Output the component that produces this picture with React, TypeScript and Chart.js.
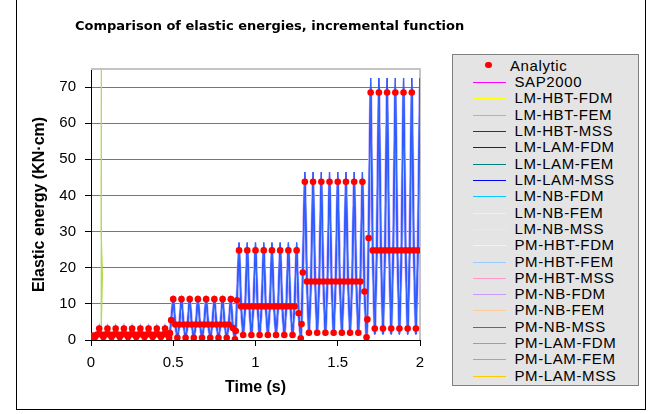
import React, { useEffect, useRef } from 'react';
import { Chart, registerables } from 'chart.js';

Chart.register(...registerables);

// ---------- DATA ----------
const timeSteps: number[] = [
  0, 0.0125, 0.025, 0.0375,
  0.05, 0.0625, 0.075, 0.0875,
  0.1, 0.1125, 0.125, 0.1375,
  0.15, 0.1625, 0.175, 0.1875,
  0.2, 0.2125, 0.225, 0.2375,
  0.25, 0.2625, 0.275, 0.2875,
  0.3, 0.3125, 0.325, 0.3375,
  0.35, 0.3625, 0.375, 0.3875,
  0.4, 0.4125, 0.425, 0.4375,
  0.45, 0.4625, 0.475, 0.48, 0.4875,
  0.5, 0.5125, 0.525, 0.5375,
  0.55, 0.5625, 0.575, 0.5875,
  0.6, 0.6125, 0.625, 0.6375,
  0.65, 0.6625, 0.675, 0.6875,
  0.7, 0.7125, 0.725, 0.7375,
  0.75, 0.7625, 0.775, 0.7875,
  0.8, 0.8125, 0.825, 0.8375,
  0.85, 0.8625, 0.875, 0.88, 0.8875,
  0.9, 0.9125, 0.925, 0.9375,
  0.95, 0.9625, 0.975, 0.9875,
  1, 1.0125, 1.025, 1.0375,
  1.05, 1.0625, 1.075, 1.0875,
  1.1, 1.1125, 1.125, 1.1375,
  1.15, 1.1625, 1.175, 1.1875,
  1.2, 1.2125, 1.225, 1.2375,
  1.25, 1.2625, 1.275, 1.28, 1.2875,
  1.3, 1.3125, 1.325, 1.3375,
  1.35, 1.3625, 1.375, 1.3875,
  1.4, 1.4125, 1.425, 1.4375,
  1.45, 1.4625, 1.475, 1.4875,
  1.5, 1.5125, 1.525, 1.5375,
  1.55, 1.5625, 1.575, 1.5875,
  1.6, 1.6125, 1.625, 1.6375,
  1.65, 1.6625, 1.675, 1.68, 1.6875,
  1.7, 1.7125, 1.725, 1.7375,
  1.75, 1.7625, 1.775, 1.7875,
  1.8, 1.8125, 1.825, 1.8375,
  1.85, 1.8625, 1.875, 1.8875,
  1.9, 1.9125, 1.925, 1.9375,
  1.95, 1.9625, 1.975, 1.9875,
  2,
];

const analyticEnergy: (number | null)[] = [
  0.5, 1.2, 0.8, 1.5,
  3.2, 1.5, 0.8, 1.5,
  3.2, 1.5, 0.8, 1.5,
  3.2, 1.5, 0.8, 1.5,
  3.2, 1.5, 0.8, 1.5,
  3.2, 1.5, 0.8, 1.5,
  3.2, 1.5, 0.8, 1.5,
  3.2, 1.5, 0.8, 1.5,
  3.2, 1.5, 0.8, 1.5,
  3.2, 1.5, 0.6, 1.9, 5.5,
  11.3, 4.3, 0.6, 4.3,
  11.3, 4.3, 0.6, 4.3,
  11.3, 4.3, 0.6, 4.3,
  11.3, 4.3, 0.6, 4.3,
  11.3, 4.3, 0.6, 4.3,
  11.3, 4.3, 0.6, 4.3,
  11.3, 4.3, 0.6, 4.3,
  11.3, 3.3, 0.2, 2.5, 11.0,
  24.8, 9.3, 1.4, 9.3,
  24.8, 9.3, 1.4, 9.3,
  24.8, 9.3, 1.4, 9.3,
  24.8, 9.3, 1.4, 9.3,
  24.8, 9.3, 1.4, 9.3,
  24.8, 9.3, 1.4, 9.3,
  24.8, 9.3, 1.4, 9.3,
  24.8, 7.4, 0.5, 4.4, 18.7,
  43.8, 16.2, 2.0, 16.2,
  43.8, 16.2, 2.0, 16.2,
  43.8, 16.2, 2.0, 16.2,
  43.8, 16.2, 2.0, 16.2,
  43.8, 16.2, 2.0, 16.2,
  43.8, 16.2, 2.0, 16.2,
  43.8, 16.2, 2.0, 16.2,
  43.8, 13.4, 0.75, 5.7, 28.2,
  68.5, 24.8, 3.2, 24.8,
  68.5, 24.8, 3.2, 24.8,
  68.5, 24.8, 3.2, 24.8,
  68.5, 24.8, 3.2, 24.8,
  68.5, 24.8, 3.2, 24.8,
  68.5, 24.8, 3.2, 24.8,
  null,
];

// numerical solution (fine-step methods, reaching the true peaks)
const numericEnergy: number[] = [
  0, 1.2, 0.3, 1.5,
  3.6, 1.5, 0.3, 1.5,
  3.6, 1.5, 0.3, 1.5,
  3.6, 1.5, 0.3, 1.5,
  3.6, 1.5, 0.3, 1.5,
  3.6, 1.5, 0.3, 1.5,
  3.6, 1.5, 0.3, 1.5,
  3.6, 1.5, 0.3, 1.5,
  3.6, 1.5, 0.3, 1.5,
  3.6, 1.5, 0.3, 1.9, 5.5,
  12.2, 4.3, 0.3, 4.3,
  12.2, 4.3, 0.3, 4.3,
  12.2, 4.3, 0.3, 4.3,
  12.2, 4.3, 0.3, 4.3,
  12.2, 4.3, 0.3, 4.3,
  12.2, 4.3, 0.3, 4.3,
  12.2, 4.3, 0.3, 4.3,
  12.2, 3.3, 0.2, 2.5, 11.0,
  27.0, 9.3, 0.9, 9.3,
  27.0, 9.3, 0.9, 9.3,
  27.0, 9.3, 0.9, 9.3,
  27.0, 9.3, 0.9, 9.3,
  27.0, 9.3, 0.9, 9.3,
  27.0, 9.3, 0.9, 9.3,
  27.0, 9.3, 0.9, 9.3,
  27.0, 7.4, 0.4, 4.4, 18.7,
  46.5, 16.2, 1.2, 16.2,
  46.5, 16.2, 1.2, 16.2,
  46.5, 16.2, 1.2, 16.2,
  46.5, 16.2, 1.2, 16.2,
  46.5, 16.2, 1.2, 16.2,
  46.5, 16.2, 1.2, 16.2,
  46.5, 16.2, 1.2, 16.2,
  46.5, 13.4, 0.6, 5.7, 28.2,
  72.5, 24.8, 1.5, 24.8,
  72.5, 24.8, 1.5, 24.8,
  72.5, 24.8, 1.5, 24.8,
  72.5, 24.8, 1.5, 24.8,
  72.5, 24.8, 1.5, 24.8,
  72.5, 24.8, 1.5, 24.8,
  72.5,
];

// the other methods, peaking slightly lower
const otherEnergy: number[] = [
  0, 1.2, 0.4, 1.5,
  3.4, 1.5, 0.4, 1.5,
  3.4, 1.5, 0.4, 1.5,
  3.4, 1.5, 0.4, 1.5,
  3.4, 1.5, 0.4, 1.5,
  3.4, 1.5, 0.4, 1.5,
  3.4, 1.5, 0.4, 1.5,
  3.4, 1.5, 0.4, 1.5,
  3.4, 1.5, 0.4, 1.5,
  3.4, 1.5, 0.4, 1.9, 5.5,
  11.6, 4.3, 0.4, 4.3,
  11.6, 4.3, 0.4, 4.3,
  11.6, 4.3, 0.4, 4.3,
  11.6, 4.3, 0.4, 4.3,
  11.6, 4.3, 0.4, 4.3,
  11.6, 4.3, 0.4, 4.3,
  11.6, 4.3, 0.4, 4.3,
  11.6, 3.3, 0.3, 2.5, 11.0,
  25.6, 9.3, 1.0, 9.3,
  25.6, 9.3, 1.0, 9.3,
  25.6, 9.3, 1.0, 9.3,
  25.6, 9.3, 1.0, 9.3,
  25.6, 9.3, 1.0, 9.3,
  25.6, 9.3, 1.0, 9.3,
  25.6, 9.3, 1.0, 9.3,
  25.6, 7.4, 0.5, 4.4, 18.7,
  44.5, 16.2, 1.4, 16.2,
  44.5, 16.2, 1.4, 16.2,
  44.5, 16.2, 1.4, 16.2,
  44.5, 16.2, 1.4, 16.2,
  44.5, 16.2, 1.4, 16.2,
  44.5, 16.2, 1.4, 16.2,
  44.5, 16.2, 1.4, 16.2,
  44.5, 13.4, 0.7, 5.7, 28.2,
  69.5, 24.8, 1.8, 24.8,
  69.5, 24.8, 1.8, 24.8,
  69.5, 24.8, 1.8, 24.8,
  69.5, 24.8, 1.8, 24.8,
  69.5, 24.8, 1.8, 24.8,
  69.5, 24.8, 1.8, 24.8,
  69.5,
];

// diverging PM-LAM results (leave the scale right after the start)
const divergeTime: number[] = [0.0625, 0.0675];
const divergeEnergy: number[] = [1.4, 420];
const divergeFemTime: number[] = [0.0625, 0.0685, 0.0628, 0.0675];
const divergeFemEnergy: number[] = [1.4, 18, 30, 420];

const seriesNames: string[] = [
  'SAP2000', 'LM-HBT-FDM', 'LM-HBT-FEM', 'LM-HBT-MSS', 'LM-LAM-FDM', 'LM-LAM-FEM',
  'LM-LAM-MSS', 'LM-NB-FDM', 'LM-NB-FEM', 'LM-NB-MSS', 'PM-HBT-FDM', 'PM-HBT-FEM',
  'PM-HBT-MSS', 'PM-NB-FDM', 'PM-NB-FEM', 'PM-NB-MSS', 'PM-LAM-FDM', 'PM-LAM-FEM', 'PM-LAM-MSS',
];

const xMin = 0, xMax = 2, xStep = 0.5;
const yMin = 0, yMax = 75, yStep = 10;

// ---------- STYLE ----------
const seriesColors = [
  '#FF00FF', '#FFFF00', '#00FFFF', '#800080', '#800000', '#008080',
  '#0000FF', '#00CCFF', '#CCFFFF', '#CCFFCC', '#FFFF99', '#99CCFF',
  '#FF99CC', '#CC99FF', '#FFCC99', '#3366FF', '#33CCCC', '#99CC00', '#FFCC00',
];
const seriesSource = [
  'other', 'other', 'other', 'other', 'other', 'other',
  'main', 'other', 'other', 'other', 'other', 'other',
  'other', 'other', 'other', 'main', 'diverge', 'divergeFem', 'diverge',
];
const seriesWidth = [
  1.2, 1.2, 1.2, 1.2, 1.2, 1.2,
  1.2, 1.2, 1.2, 1.2, 1.2, 2.2,
  1.2, 3, 1.2, 1.2, 1, 1, 1,
];
const seriesOrder = [
  10, 11, 12, 13, 14, 15,
  5, 16, 17, 18, 19, 6,
  20, 7, 21, 4, 3, 2, 1,
];

const FONT = '"Liberation Sans", Arial, sans-serif';

const plotBorder = {
  id: 'plotBorder',
  beforeDatasetsDraw(chart: any) {
    const { ctx, chartArea: a } = chart;
    ctx.save();
    ctx.strokeStyle = '#c4c4c4';
    ctx.lineWidth = 2;
    ctx.beginPath();
    ctx.moveTo(a.left, a.top);
    ctx.lineTo(a.right, a.top);
    ctx.lineTo(a.right, a.bottom);
    ctx.stroke();
    ctx.restore();
  },
};

export default function App() {
  const ref = useRef<HTMLCanvasElement>(null);

  useEffect(() => {
    const canvas = ref.current;
    if (!canvas) return;
    const toPts = (xs: number[], ys: (number | null)[]) => xs.map((x, i) => ({ x, y: ys[i] }));
    const sources: Record<string, any[]> = {
      main: toPts(timeSteps, numericEnergy),
      other: toPts(timeSteps, otherEnergy),
      diverge: toPts(divergeTime, divergeEnergy),
      divergeFem: toPts(divergeFemTime, divergeFemEnergy),
    };
    const datasets: any[] = [
      {
        label: 'Analytic',
        data: toPts(timeSteps, analyticEnergy),
        showLine: false,
        pointRadius: 3.3,
        pointBackgroundColor: '#FF0000',
        pointBorderColor: '#FF0000',
        pointBorderWidth: 0,
        order: 0,
      },
    ];
    seriesNames.forEach((name, i) => {
      datasets.push({
        label: name,
        data: sources[seriesSource[i]],
        showLine: true,
        borderColor: seriesColors[i],
        backgroundColor: seriesColors[i],
        borderWidth: seriesWidth[i],
        pointRadius: 0,
        tension: 0,
        order: seriesOrder[i],
      });
    });

    const chart = new Chart(canvas, {
      type: 'scatter',
      data: { datasets },
      options: {
        animation: false,
        responsive: false,
        maintainAspectRatio: false,
        devicePixelRatio: 1,
        events: [],
        layout: { padding: { left: 16, right: 228, top: 69, bottom: 14 } },
        plugins: {
          legend: { display: false },
          title: { display: false },
          tooltip: { enabled: false },
        },
        scales: {
          x: {
            type: 'linear',
            min: xMin,
            max: xMax,
            ticks: {
              stepSize: xStep,
              color: '#000',
              font: { family: FONT, size: 15 },
              padding: 7.5,
              maxRotation: 0,
              autoSkip: false,
              callback: (v: any) => String(v),
            },
            grid: { drawOnChartArea: false, tickLength: 6, tickColor: '#000', color: '#000' },
            border: { color: '#000', width: 1 },
            title: {
              display: true,
              text: 'Time (s)',
              color: '#000',
              font: { family: FONT, size: 16, weight: 'bold' },
              padding: { top: 0, bottom: 2.9 },
            },
            afterFit: (s: any) => { s.height = 60; },
          },
          y: {
            type: 'linear',
            min: yMin,
            max: yMax,
            ticks: {
              stepSize: yStep,
              includeBounds: false,
              color: '#000',
              font: { family: FONT, size: 15 },
              padding: 9,
            },
            grid: { color: '#777', tickColor: '#000', tickLength: 6, lineWidth: 1 },
            border: { color: '#000', width: 1 },
            title: {
              display: true,
              text: 'Elastic energy (KN·cm)',
              color: '#000',
              font: { family: FONT, size: 16, weight: 'bold' },
              padding: { top: 14.4, bottom: 0 },
            },
            afterFit: (s: any) => { s.width = 75; },
          },
        },
      } as any,
      plugins: [plotBorder],
    });
    return () => chart.destroy();
  }, []);

  const legendRowY = (i: number) => Math.round(82 + i * 16.32);

  return (
    <div style={{ position: 'absolute', left: 0, top: 0, width: 648, height: 414, background: '#fff', overflow: 'hidden' }}>
      <canvas ref={ref} width={648} height={414} style={{ position: 'absolute', left: 0, top: 0, width: 648, height: 414 }} />
      {/* chart frame */}
      <div style={{ position: 'absolute', left: 16, top: 0, width: 1, height: 410, background: '#000' }} />
      <div style={{ position: 'absolute', left: 645, top: 0, width: 1, height: 410, background: '#000' }} />
      <div style={{ position: 'absolute', left: 16, top: 409, width: 630, height: 1, background: '#000' }} />
      {/* title */}
      <div
        style={{
          position: 'absolute', left: 75, top: 18, whiteSpace: 'nowrap',
          fontFamily: '"DejaVu Sans", Verdana, sans-serif', fontWeight: 'bold', fontSize: 13, lineHeight: '16px', color: '#000',
        }}
      >
        Comparison of elastic energies, incremental function
      </div>
      {/* legend */}
      <div
        style={{
          position: 'absolute', left: 452, top: 54, width: 187, height: 332,
          background: '#e4e4e4', border: '1px solid #808080', boxSizing: 'border-box',
        }}
      />
      <div style={{ position: 'absolute', left: 485, top: 61.5, width: 6.6, height: 6.6, borderRadius: '50%', background: '#FF0000' }} />
      <div
        style={{
          position: 'absolute', left: 510, top: 57.5, whiteSpace: 'nowrap', fontFamily: FONT, fontSize: 15,
          lineHeight: '16px', letterSpacing: '0.6px', color: '#000',
        }}
      >
        Analytic
      </div>
      {seriesNames.map((name, i) => (
        <React.Fragment key={name}>
          <div style={{ position: 'absolute', left: 473, top: legendRowY(i), width: 33, height: 1, background: seriesColors[i] }} />
          <div
            style={{
              position: 'absolute', left: 514.5, top: legendRowY(i) - 8, whiteSpace: 'nowrap', fontFamily: FONT,
              fontSize: 15, lineHeight: '16px', letterSpacing: '0.6px', color: '#000',
            }}
          >
            {name}
          </div>
        </React.Fragment>
      ))}
    </div>
  );
}
